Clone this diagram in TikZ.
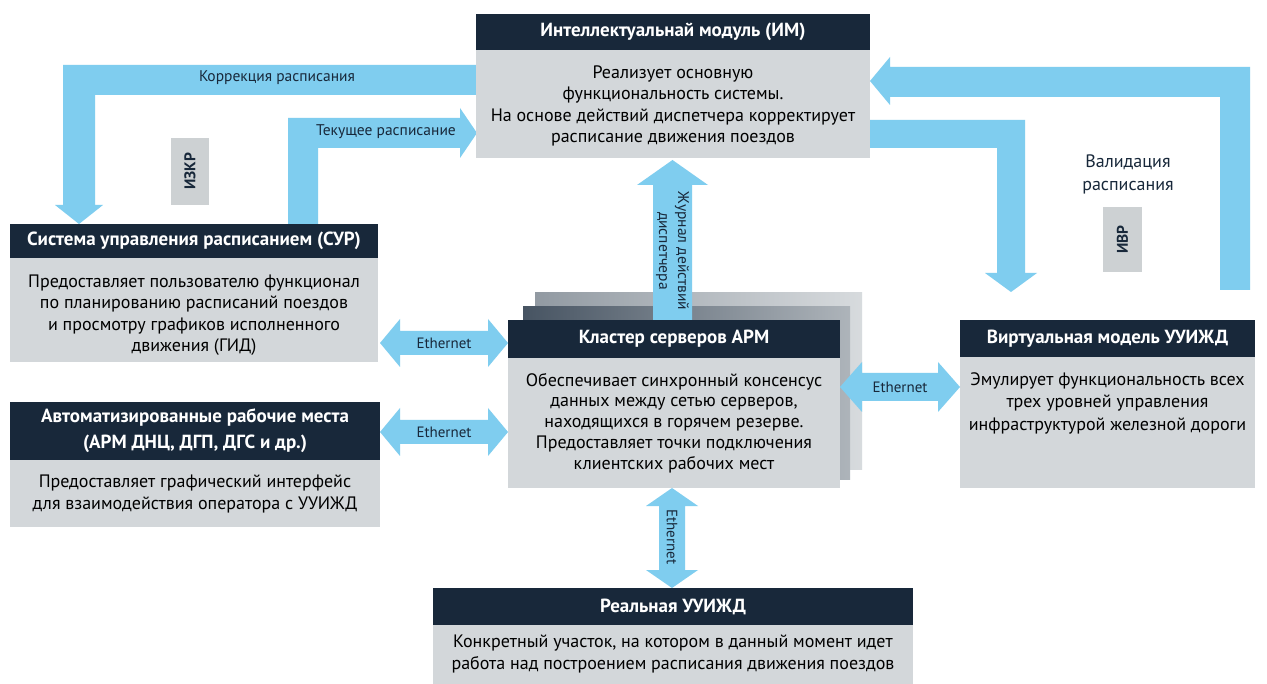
\documentclass[tikz,border=0pt]{standalone}
\usepackage{fontspec}
\setmainfont{PT Sans}
\usetikzlibrary{calc}
\definecolor{hdrc}{HTML}{18283A}
\definecolor{bodc}{HTML}{D3D7DA}
\definecolor{arrc}{HTML}{7FCDEF}
\definecolor{tagc}{HTML}{CDD1D3}
\newcommand\hdrfnt{\fontsize{19}{25}\selectfont\bfseries}
\newcommand\bodfnt{\fontsize{18}{21.5}\selectfont}
\newcommand\lblfnt{\fontsize{15.5}{18}\selectfont}
% horizontal double arrow: xl, xr, yc, half band, half head, head length
\newcommand\hdarrow[6]{%
  \fill[arrc] (#1,#3) -- (#1+#6,#3-#5) -- (#1+#6,#3-#4) -- (#2-#6,#3-#4) -- (#2-#6,#3-#5)
    -- (#2,#3) -- (#2-#6,#3+#5) -- (#2-#6,#3+#4) -- (#1+#6,#3+#4) -- (#1+#6,#3+#5) -- cycle;}
\newcommand\vdarrow[6]{%
  \fill[arrc] (#3,#1) -- (#3+#5,#1+#6) -- (#3+#4,#1+#6) -- (#3+#4,#2-#6) -- (#3+#5,#2-#6)
    -- (#3,#2) -- (#3-#5,#2-#6) -- (#3-#4,#2-#6) -- (#3-#4,#1+#6) -- (#3-#5,#1+#6) -- cycle;}
\tikzset{
  hdr/.style={fill=hdrc, text=white, font=\hdrfnt, inner sep=0pt, outer sep=0pt, anchor=north west, align=center},
  bod/.style={fill=bodc, inner sep=0pt, outer sep=0pt, anchor=north west},
  btxt/.style={text=black, font=\bodfnt, inner sep=0pt, align=center},
  lbl/.style={font=\lblfnt, text=hdrc, inner sep=0pt},
  eth/.style={font=\fontsize{15}{18}\selectfont, text=hdrc, inner sep=0pt},
  tagtxt/.style={font=\fontsize{15.5}{18}\selectfont\bfseries, rotate=90, text=hdrc, inner sep=0pt},
}
\begin{document}
\begin{tikzpicture}[x=1pt,y=-1pt]
\useasboundingbox (0,0) rectangle (1267,684);
\fill[white] (0,0) rectangle (1267,684);

% ---------- bent arrows ----------
% Korrektsiya: IM -> SUR
\fill[arrc] (476,65) -- (63,65) -- (63,205) -- (55,205) -- (79,224) -- (103,205) -- (95,205) -- (95,95) -- (476,95) -- cycle;
% Tekushchee: SUR -> IM
\fill[arrc] (288,224) -- (288,118) -- (460,118) -- (460,108) -- (477,133) -- (460,158) -- (460,148) -- (318,148) -- (318,224) -- cycle;
% Validatsiya: virtual -> IM
\fill[arrc] (1220,290) -- (1220,97) -- (890,97) -- (890,105) -- (870,81) -- (890,57) -- (890,67) -- (1250,67) -- (1250,290) -- cycle;
% IM -> virtual
\fill[arrc] (870,120) -- (1025,120) -- (1025,273) -- (1037,273) -- (1011,292) -- (985,273) -- (997,273) -- (997,148) -- (870,148) -- cycle;

% ---------- cluster back layers ----------
\shade[left color=hdrc!35!bodc, right color=bodc!90!white] (535,293) rectangle (862,470);
\shade[left color=hdrc!75!bodc, right color=hdrc!20!bodc] (523,307) rectangle (850,480);

% Zhurnal: cluster -> IM
\fill[arrc] (653,320) -- (653,185) -- (637,185) -- (672.5,160) -- (708,185) -- (692,185) -- (692,320) -- cycle;

% ---------- boxes ----------
% IM
\node[hdr, minimum width=394pt, minimum height=36pt] (imh) at (476,14) {Интеллектуальнай модуль (ИМ)};
\node[bod, minimum width=394pt, minimum height=108pt] (imb) at (476,50) {};
\node[btxt] (imt) at (673,106) {Реализует основную\\функциональность системы.\\На основе действий диспетчера корректирует\\расписание движения поездов};
% SUR
\node[hdr, minimum width=368pt, minimum height=34pt] (surh) at (10,224) {Система управления расписанием (СУР)};
\node[bod, minimum width=368pt, minimum height=104pt] (surb) at (10,258) {};
\node[btxt] (surt) at (194,315) {Предоставляет пользователю функционал\\по планированию расписаний поездов\\и просмотру графиков исполненного\\движения (ГИД)};
% ARM
\node[hdr, minimum width=370pt, minimum height=58pt, font=\fontsize{19}{26}\selectfont\bfseries] (armh) at (10,402) {Автоматизированные рабочие места\\(АРМ ДНЦ, ДГП, ДГС и др.)};
\node[bod, minimum width=370pt, minimum height=67pt] (armb) at (10,460) {};
\node[btxt] (armt) at (195,494) {Предоставляет графический интерфейс\\для взаимодействия оператора с УУИЖД};
% Cluster
\node[hdr, minimum width=332pt, minimum height=38pt] (clh) at (508,320) {Кластер серверов АРМ};
\node[bod, minimum width=332pt, minimum height=130pt] (clb) at (508,358) {};
\node[btxt, font=\fontsize{18}{20.8}\selectfont] (clt) at (674,423) {Обеспечивает синхронный консенсус\\данных между сетью серверов,\\находящихся в горячем резерве.\\Предоставляет точки подключения\\клиентских рабочих мест};
% Virtual
\node[hdr, minimum width=295pt, minimum height=37pt] (vmh) at (960,320) {Виртуальная модель УУИЖД};
\node[bod, minimum width=295pt, minimum height=131pt] (vmb) at (960,357) {};
\node[btxt, font=\fontsize{18}{22.5}\selectfont] (vmt) at (1107.5,403) {Эмулирует функциональность всех\\трех уровней управления\\инфраструктурой железной дороги};
% Real
\node[hdr, minimum width=480pt, minimum height=37pt] (rlh) at (433,588) {Реальная УУИЖД};
\node[bod, minimum width=480pt, minimum height=59pt] (rlb) at (433,625) {};
\node[btxt] (rlt) at (673,654) {Конкретный участок, на котором в данный момент идет\\работа над построением расписания движения поездов};

% ---------- Ethernet arrows ----------
\hdarrow{380}{508}{343}{12}{24}{20}
\hdarrow{380}{508}{432}{12}{24}{20}
\hdarrow{840}{960}{387}{14}{25}{22}
\vdarrow{488}{588}{672}{13}{26}{18}

% ---------- labels ----------
\node[lbl] (lk) at (277,78) {Коррекция расписания};
\node[lbl] (lt) at (386,132) {Текущее расписание};
\node[lbl, rotate=-90, align=center, font=\fontsize{15.5}{19}\selectfont] (lz) at (672.5,251) {Журнал действий\\диспетчера};
\node[lbl, align=center, font=\fontsize{18}{23}\selectfont] (lv) at (1128,174) {Валидация\\расписания};
\node[eth] (le1) at (444,343) {Ethernet};
\node[eth] (le2) at (444,432) {Ethernet};
\node[eth] (le3) at (900,387) {Ethernet};
\node[eth, rotate=-90] (le4) at (672,537) {Ethernet};

% tags
\fill[tagc] (171,138) rectangle (209,205);
\node[tagtxt] (izkr) at (190,171.5) {ИЗКР};
\fill[tagc] (1103,207) rectangle (1142,272);
\node[tagtxt] (ivr) at (1122.5,239.5) {ИВР};
\end{tikzpicture}
\end{document}
